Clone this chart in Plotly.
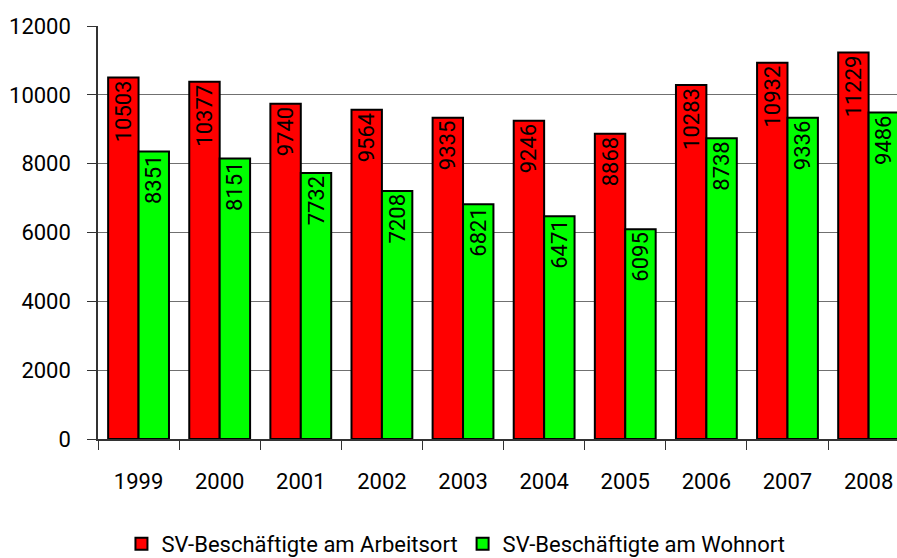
import plotly.graph_objects as go

years = ["1999", "2000", "2001", "2002", "2003", "2004", "2005", "2006", "2007", "2008"]
arbeitsort = [10503, 10377, 9740, 9564, 9335, 9246, 8868, 10283, 10932, 11229]
wohnort = [8351, 8151, 7732, 7208, 6821, 6471, 6095, 8738, 9336, 9486]
y_ticks = [0, 2000, 4000, 6000, 8000, 10000, 12000]

FONT = "Roboto"
FS = 22

fig = go.Figure()
for name, vals, col in [
    ("SV-Beschäftigte am Arbeitsort", arbeitsort, "#FF0000"),
    ("SV-Beschäftigte am Wohnort", wohnort, "#00FF00"),
]:
    fig.add_trace(go.Bar(
        x=years, y=vals, name=name,
        marker=dict(color=col, line=dict(color="black", width=2)),
        text=[str(v) for v in vals],
        textposition="inside", insidetextanchor="end", textangle=-90,
        insidetextfont=dict(family=FONT, size=FS, color="black"),
        constraintext="none",
    ))

fig.update_layout(
    width=897, height=558,
    margin=dict(l=98, r=0, t=26, b=119, autoexpand=False),
    paper_bgcolor="white", plot_bgcolor="white",
    barmode="group", bargap=0.25, bargroupgap=0,
    font=dict(family=FONT, size=FS, color="black"),
    showlegend=True,
    legend=dict(orientation="h", x=0.448, xanchor="center", y=-0.254, yanchor="middle",
                font=dict(family=FONT, size=FS, color="black"),
                tracegroupgap=0, traceorder="normal"),
)
fig.update_xaxes(
    type="category", range=[-0.5, 9.35], automargin=False,
    showline=True, linecolor="#333333", linewidth=1.5,
    ticks="outside", ticklen=9, tickcolor="#333333", tickson="boundaries",
    showgrid=False, ticklabelstandoff=22,
)
fig.update_yaxes(
    range=[0, 12000], tickvals=y_ticks, tickformat="d", automargin=False,
    showline=True, linecolor="#333333", linewidth=1.5,
    ticks="outside", ticklen=9, tickcolor="#333333",
    showgrid=True, gridcolor="#707070", gridwidth=1, zeroline=False,
    ticklabelstandoff=12,
)

fig.write_html("out.html", config={"displayModeBar": False},
               post_script="document.body.style.margin='0';document.body.style.overflow='hidden';")
